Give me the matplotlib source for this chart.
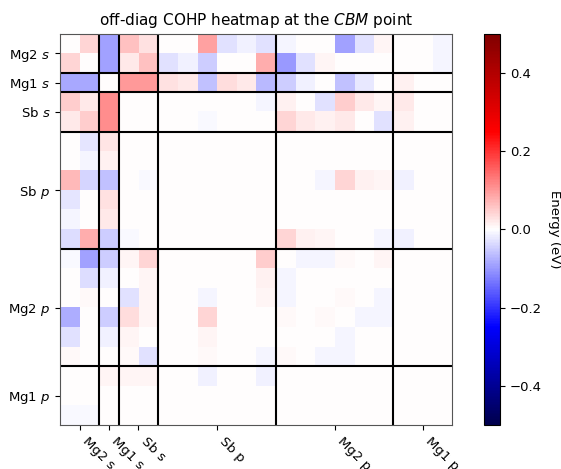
import numpy as np
import matplotlib
matplotlib.use("Agg")
import matplotlib.pyplot as plt

# orbital groups along both axes
groups = ["Mg2 $s$", "Mg1 $s$", "Sb $s$", "Sb $p$", "Mg2 $p$", "Mg1 $p$"]
xgroups = ["Mg2 s", "Mg1 s", "Sb s", "Sb p", "Mg2 p", "Mg1 p"]
sizes = [2, 1, 2, 6, 6, 3]

# off-diagonal COHP (eV), 20 x 20
cohp = [
    [0, .04, -.09, .06, .03, 0, 0, .09, -.03, -.015, -.03, -.01, 0, 0, -.09, -.03, .01, 0, 0, -.01],
    [.04, 0, -.09, .02, .06, -.03, -.015, -.05, 0, 0, .08, -.10, -.03, .01, 0, 0, 0, 0, 0, -.01],
    [-.085, -.085, 0, .10, .10, .03, .02, -.06, .035, .02, -.07, -.05, -.015, 0, -.06, -.02, 0, .015, 0, 0],
    [.05, .02, .11, 0, 0, 0, 0, 0, 0, 0, -.01, .015, 0, -.03, .05, .02, .01, .02, 0, 0],
    [.02, .05, .11, 0, 0, 0, 0, -.005, 0, 0, 0, .04, .02, .015, .02, 0, -.03, .015, 0, 0],
    [0, -.025, .025, 0, 0, 0, 0, 0, 0, 0, 0, 0, 0, 0, 0, 0, 0, 0, 0, 0],
    [0, -.01, .015, 0, 0, 0, 0, 0, 0, 0, 0, 0, 0, 0, 0, 0, 0, 0, 0, 0],
    [.07, -.04, -.06, 0, -.005, 0, 0, 0, 0, 0, 0, 0, 0, -.01, .04, .015, .01, -.015, 0, 0],
    [-.025, 0, .03, 0, 0, 0, 0, 0, 0, 0, 0, 0, 0, 0, 0, 0, 0, 0, 0, 0],
    [-.01, 0, .02, 0, 0, 0, 0, 0, 0, 0, 0, 0, 0, 0, 0, 0, 0, 0, 0, 0],
    [-.035, .08, -.05, -.005, 0, 0, 0, 0, 0, 0, 0, .04, .015, .01, 0, 0, -.01, -.015, 0, 0],
    [-.005, -.09, -.05, .01, .04, 0, 0, 0, 0, 0, .05, 0, -.01, -.01, .005, 0, .01, 0, 0, 0],
    [0, -.035, -.015, 0, .01, 0, 0, 0, 0, 0, .015, -.01, 0, 0, 0, 0, 0, 0, 0, 0],
    [0, .005, 0, -.03, .01, 0, 0, -.01, 0, 0, .01, -.01, 0, 0, .005, 0, -.01, 0, 0, 0],
    [-.08, 0, -.05, .035, .01, 0, 0, .04, 0, 0, 0, .005, 0, .005, 0, -.01, -.01, 0, 0, 0],
    [-.03, 0, -.015, .01, 0, 0, 0, .01, 0, 0, 0, 0, 0, 0, -.01, 0, 0, 0, 0, 0],
    [.005, 0, 0, .005, -.03, 0, 0, .005, 0, 0, -.01, .005, 0, -.01, -.01, 0, 0, 0, 0, 0],
    [0, 0, .01, .01, .01, 0, 0, -.015, 0, 0, -.015, 0, 0, 0, 0, 0, 0, 0, 0, 0],
    [0, 0, 0, 0, 0, 0, 0, 0, 0, 0, 0, 0, 0, 0, 0, 0, 0, 0, 0, 0],
    [-.005, -.005, 0, 0, 0, 0, 0, 0, 0, 0, 0, 0, 0, 0, 0, 0, 0, 0, 0, 0],
]

mat = np.array(cohp)
edges = np.cumsum([0] + sizes)
centers = (edges[:-1] + edges[1:]) / 2 - 0.5

fig = plt.figure(figsize=(5.61, 4.69), dpi=100)
ax = fig.add_axes([0.107, 0.094, 0.699, 0.834])
cax = fig.add_axes([0.863, 0.094, 0.0285, 0.834])

im = ax.imshow(mat, cmap="seismic", vmin=-0.5, vmax=0.5, aspect="auto",
               interpolation="nearest")
for e in edges[1:-1]:
    ax.axhline(e - 0.5, color="black", lw=1.5)
    ax.axvline(e - 0.5, color="black", lw=1.5)

ax.set_yticks(centers)
ax.set_yticklabels(groups, fontsize=9.5)
ax.set_xticks(centers)
ax.set_xticklabels(xgroups, fontsize=9.5, rotation=-45, ha="left")
ax.set_title("off-diag COHP heatmap at the $\\it{CBM}$ point", fontsize=11)
for s in ax.spines.values():
    s.set_color("#555555")

cb = fig.colorbar(im, cax=cax)
cb.set_ticks([-0.4, -0.2, 0.0, 0.2, 0.4])
cb.ax.tick_params(labelsize=9.5)
cb.set_label("Energy (eV)", rotation=270, labelpad=14, fontsize=9.5)

fig.savefig("out.png", dpi=100)
